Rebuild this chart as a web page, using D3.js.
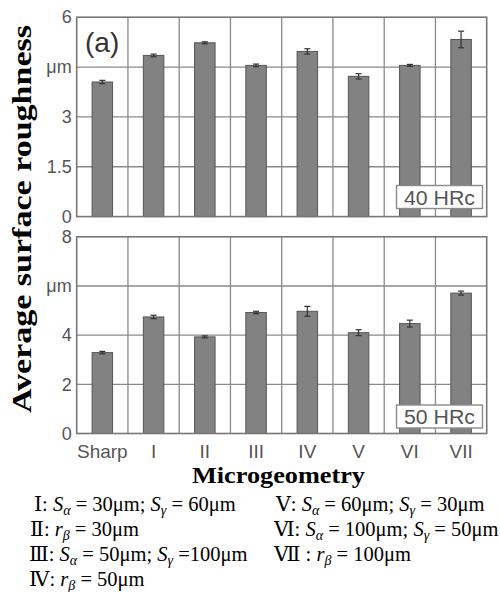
<!DOCTYPE html>
<html><head><meta charset="utf-8">
<script src="https://cdn.jsdelivr.net/npm/d3@7"></script>
<style>body{margin:0;background:#fff}svg{display:block}</style>
</head><body>
<svg id="c" width="500" height="592"></svg>
<script>
const categories = ["Sharp","I","II","III","IV","V","VI","VII"];
const hrc40 = [4.05,4.85,5.23,4.55,4.97,4.22,4.55,5.33];
const err40 = [0.05,0.04,0.03,0.04,0.08,0.08,0.03,0.25];
const hrc50 = [3.29,4.74,3.93,4.92,4.97,4.10,4.47,5.71];
const err50 = [0.05,0.07,0.04,0.05,0.20,0.12,0.14,0.08];
const ticks40 = [0,1.5,3,4.5,6];
const tickLabels40 = ["0","1.5","3","μm","6"];
const ticks50 = [0,2,4,6,8];
const tickLabels50 = ["0","2","4","μm","8"];
const panelLabels = ["40 HRc","50 HRc"];
const legendLeft = [
  [["Ⅰ: ",""],["S","i"],["α","s"],[" = 30μm; ",""],["S","i"],["γ","s"],[" = 60μm",""]],
  [["Ⅱ: ",""],["r","i"],["β","s"],[" = 30μm",""]],
  [["Ⅲ: ",""],["S","i"],["α","s"],[" = 50μm; ",""],["S","i"],["γ","s"],[" =100μm",""]],
  [["Ⅳ: ",""],["r","i"],["β","s"],[" = 50μm",""]]
];
const legendRight = [
  [["Ⅴ: ",""],["S","i"],["α","s"],[" = 60μm; ",""],["S","i"],["γ","s"],[" = 30μm",""]],
  [["Ⅵ: ",""],["S","i"],["α","s"],[" = 100μm; ",""],["S","i"],["γ","s"],[" = 50μm",""]],
  [["Ⅶ : ",""],["r","i"],["β","s"],[" = 100μm",""]]
];

const svg = d3.select("#c");
const X0 = 76.7, X1 = 486.7;
const band = d3.scaleBand().domain(categories).range([X0, X1]).paddingInner(0.6).paddingOuter(0.3);
const grid = d3.scaleBand().domain(categories).range([X0, X1]).padding(0);
const sans = "'Liberation Sans', Arial, sans-serif";
const serif = "'Liberation Serif', 'Times New Roman', 'DejaVu Serif', serif";

function panel(vals, errs, ticks, labels, domMax, yTop, yBot, boxLabel, boxY, showX) {
  const y = d3.scaleLinear().domain([0, domMax]).range([yBot, yTop]);
  const g = svg.append("g");
  g.selectAll("line.h").data(ticks.slice(1, -1)).join("line")
    .attr("x1", X0).attr("x2", X1).attr("y1", d => y(d)).attr("y2", d => y(d))
    .attr("stroke", "#8a8a8a").attr("stroke-width", 1.3);
  g.selectAll("line.v").data(categories.slice(1)).join("line")
    .attr("x1", d => grid(d)).attr("x2", d => grid(d)).attr("y1", yTop).attr("y2", yBot)
    .attr("stroke", "#8a8a8a").attr("stroke-width", 1.3);
  g.selectAll("rect.bar").data(vals).join("rect")
    .attr("x", (d, i) => band(categories[i])).attr("width", band.bandwidth())
    .attr("y", d => y(d)).attr("height", d => y(0) - y(d))
    .attr("fill", "#828282").attr("stroke", "#555").attr("stroke-width", 1);
  const eb = g.selectAll("g.eb").data(vals).join("g");
  eb.append("line")
    .attr("x1", (d, i) => band(categories[i]) + band.bandwidth() / 2)
    .attr("x2", (d, i) => band(categories[i]) + band.bandwidth() / 2)
    .attr("y1", (d, i) => y(d + errs[i])).attr("y2", (d, i) => y(d - errs[i]))
    .attr("stroke", "#333").attr("stroke-width", 1.2);
  [1, -1].forEach(s => {
    eb.append("line")
      .attr("x1", (d, i) => band(categories[i]) + band.bandwidth() / 2 - 3)
      .attr("x2", (d, i) => band(categories[i]) + band.bandwidth() / 2 + 3)
      .attr("y1", (d, i) => y(d + s * errs[i])).attr("y2", (d, i) => y(d + s * errs[i]))
      .attr("stroke", "#333").attr("stroke-width", 1.2);
  });
  g.append("rect").attr("x", X0).attr("y", yTop).attr("width", X1 - X0).attr("height", yBot - yTop)
    .attr("fill", "none").attr("stroke", "#777").attr("stroke-width", 1.6);
  const ax = d3.axisLeft(y).tickValues(ticks).tickSize(0).tickPadding(5)
    .tickFormat((d, i) => labels[i]);
  const axg = svg.append("g").attr("transform", `translate(${X0},0)`).call(ax);
  axg.select(".domain").remove();
  axg.selectAll("text").attr("font-family", sans).attr("font-size", 18).attr("fill", "#555");
  const bx = 396.5, bw = 86, bh = 23;
  svg.append("rect").attr("x", bx).attr("y", boxY).attr("width", bw).attr("height", bh)
    .attr("fill", "#fff").attr("stroke", "#8a8a8a").attr("stroke-width", 1.4);
  svg.append("text").attr("x", bx + bw / 2).attr("y", boxY + 19).attr("text-anchor", "middle")
    .attr("font-family", sans).attr("font-size", 20).attr("fill", "#555")
    .attr("textLength", 71).attr("lengthAdjust", "spacingAndGlyphs").text(boxLabel);
  if (showX) {
    const xa = d3.axisBottom(band).tickSize(0).tickPadding(6);
    const xg = svg.append("g").attr("transform", `translate(0,${yBot})`).call(xa);
    xg.select(".domain").remove();
    xg.selectAll("text").attr("font-family", sans).attr("font-size", 19).attr("fill", "#555")
      .attr("dy", "0.95em");
  }
  return y;
}

panel(hrc40, err40, ticks40, tickLabels40, 6, 17.2, 216.6, panelLabels[0], 185.5, false);
panel(hrc50, err50, ticks50, tickLabels50, 8, 236.8, 433.5, panelLabels[1], 405, true);

svg.append("text").attr("x", 85).attr("y", 52).attr("font-family", sans).attr("font-size", 28)
  .attr("fill", "#333").text("(a)");

svg.append("text").attr("transform", "translate(31,219) rotate(-90)").attr("text-anchor", "middle")
  .attr("font-family", serif).attr("font-weight", "bold").attr("font-size", 27).attr("fill", "#000")
  .attr("textLength", 388).attr("lengthAdjust", "spacingAndGlyphs").text("Average surface roughness");
svg.append("text").attr("x", 278.5).attr("y", 483).attr("text-anchor", "middle")
  .attr("font-family", serif).attr("font-weight", "bold").attr("font-size", 24).attr("fill", "#000")
  .attr("textLength", 173).attr("lengthAdjust", "spacingAndGlyphs").text("Microgeometry");

function legend(lines, xs, y0) {
  lines.forEach((segs, li) => {
    const t = svg.append("text").attr("x", xs[li]).attr("y", y0 + li * 25)
      .attr("font-family", serif).attr("font-size", 20.5).attr("fill", "#000");
    let sub = false;
    segs.forEach(([s, k]) => {
      const ts = t.append("tspan").text(s);
      if (k === "i") ts.attr("font-style", "italic");
      if (k === "s") { ts.attr("font-style", "italic").attr("font-size", 14).attr("dy", 4); sub = true; }
      else if (sub) { ts.attr("dy", -4); sub = false; }
    });
  });
}
legend(legendLeft, [34, 30, 29, 29], 511);
legend(legendRight, [276, 274, 274], 511);
</script>
</body></html>
